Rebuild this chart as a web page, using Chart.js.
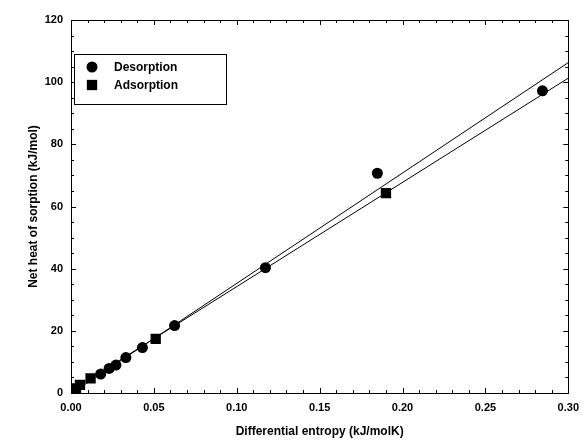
<!DOCTYPE html>
<html>
<head>
<meta charset="utf-8">
<script src="https://cdn.jsdelivr.net/npm/chart.js@4/dist/chart.umd.min.js"></script>
<style>
  html, body { margin: 0; padding: 0; background: #fff; }
  #wrap { width: 587px; height: 443px; }
</style>
</head>
<body>
<div id="wrap"><canvas id="sorptionChart"></canvas></div>
<script>
// values
const desorptionX = [0.0179, 0.0230, 0.0271, 0.0331, 0.0431, 0.0625, 0.1173, 0.1848, 0.2844];
const desorptionY = [6.1, 7.9, 9.0, 11.4, 14.6, 21.7, 40.3, 70.7, 97.2];
const adsorptionX = [0.0030, 0.0054, 0.0118, 0.0511, 0.1900];
const adsorptionY = [1.5, 2.6, 4.7, 17.4, 64.3];
// fitted straight lines (end points)
const fitUpperX = [0.0007, 0.30];
const fitUpperY = [0, 106.3];
const fitLowerX = [0, 0.30];
const fitLowerY = [0.7, 101.3];

const xTicks = [0, 0.05, 0.10, 0.15, 0.20, 0.25, 0.30];
const yTicks = [0, 20, 40, 60, 80, 100, 120];
const xMinorStep = 0.01;
const yMinorStep = 5;

function pts(xs, ys) {
  return xs.map((x, i) => ({ x: x, y: ys[i] }));
}

const FONT = 'Arial, "Liberation Sans", sans-serif';

// frame with inward ticks on all four sides
const framePlugin = {
  id: 'frame',
  afterDatasetsDraw(chart) {
    const { ctx, chartArea: a, scales } = chart;
    const xs = scales.x, ys = scales.y;
    ctx.save();
    ctx.strokeStyle = '#000';
    ctx.lineWidth = 1;
    ctx.strokeRect(Math.round(a.left) + 0.5, Math.round(a.top) + 0.5,
      Math.round(a.right - a.left), Math.round(a.bottom - a.top));
    ctx.beginPath();
    const nx = Math.round((xs.max - xs.min) / xMinorStep);
    for (let i = 0; i <= nx; i++) {
      const v = xs.min + i * xMinorStep;
      const px = Math.round(xs.getPixelForValue(v)) + 0.5;
      const len = (i % 5 === 0) ? 5 : 3;
      ctx.moveTo(px, a.bottom); ctx.lineTo(px, a.bottom - len);
      ctx.moveTo(px, a.top); ctx.lineTo(px, a.top + len);
    }
    const ny = Math.round((ys.max - ys.min) / yMinorStep);
    for (let i = 0; i <= ny; i++) {
      const v = ys.min + i * yMinorStep;
      const py = Math.round(ys.getPixelForValue(v)) + 0.5;
      const len = (i % 4 === 0) ? 5 : 3;
      ctx.moveTo(a.left, py); ctx.lineTo(a.left + len, py);
      ctx.moveTo(a.right, py); ctx.lineTo(a.right - len, py);
    }
    ctx.stroke();
    ctx.restore();
  }
};

// legend box inside the plot
const legendBoxPlugin = {
  id: 'legendBox',
  afterDraw(chart) {
    const { ctx } = chart;
    const boxL = 74, boxT = 54, boxW = 152, boxH = 50;
    ctx.save();
    ctx.fillStyle = '#fff';
    ctx.fillRect(boxL, boxT, boxW, boxH);
    ctx.strokeStyle = '#000';
    ctx.lineWidth = 1;
    ctx.strokeRect(boxL + 0.5, boxT + 0.5, boxW, boxH);
    const items = [chart.data.datasets[0], chart.data.datasets[1]];
    items.forEach((ds, i) => {
      const cy = boxT + 13 + i * 18;
      ctx.fillStyle = '#000';
      Chart.helpers.drawPoint(ctx, {
        pointStyle: ds.pointStyle, radius: ds.pointRadius, rotation: 0, borderWidth: 0
      }, 92, cy);
      ctx.font = 'bold 12px ' + FONT;
      ctx.textBaseline = 'middle';
      ctx.textAlign = 'left';
      ctx.fillText(ds.label, 114, cy + 0.5);
    });
    ctx.restore();
  }
};

new Chart(document.getElementById('sorptionChart'), {
  type: 'scatter',
  data: {
    datasets: [
      {
        label: 'Desorption',
        data: pts(desorptionX, desorptionY),
        pointStyle: 'circle',
        pointRadius: 5.5,
        backgroundColor: '#000',
        borderColor: '#000',
        borderWidth: 0
      },
      {
        label: 'Adsorption',
        data: pts(adsorptionX, adsorptionY),
        pointStyle: 'rect',
        pointRadius: 7.3,
        backgroundColor: '#000',
        borderColor: '#000',
        borderWidth: 0
      },
      {
        label: 'fit1',
        type: 'line',
        data: pts(fitUpperX, fitUpperY),
        borderColor: '#000',
        borderWidth: 1,
        pointRadius: 0,
        fill: false
      },
      {
        label: 'fit2',
        type: 'line',
        data: pts(fitLowerX, fitLowerY),
        borderColor: '#000',
        borderWidth: 1,
        pointRadius: 0,
        fill: false
      }
    ]
  },
  options: {
    responsive: true,
    maintainAspectRatio: false,
    animation: false,
    layout: { padding: { top: 20, right: 17, left: 0, bottom: 0 } },
    plugins: {
      legend: { display: false },
      tooltip: { enabled: false }
    },
    scales: {
      x: {
        type: 'linear',
        min: 0,
        max: 0.30,
        afterBuildTicks: (s) => { s.ticks = xTicks.map(v => ({ value: v })); },
        afterFit: (s) => { s.height = 50; },
        grid: { display: false, drawTicks: false },
        border: { display: false },
        ticks: {
          color: '#000',
          padding: 8,
          maxRotation: 0,
          font: { family: FONT, size: 11, weight: 'bold' },
          callback: (v) => v.toFixed(2)
        },
        title: {
          display: true,
          text: 'Differential entropy (kJ/molK)',
          color: '#000',
          font: { family: FONT, size: 12, weight: 'bold' },
          padding: { top: 0, bottom: 4 }
        }
      },
      y: {
        type: 'linear',
        min: 0,
        max: 120,
        afterBuildTicks: (s) => { s.ticks = yTicks.map(v => ({ value: v })); },
        afterFit: (s) => { s.width = 71; },
        grid: { display: false, drawTicks: false },
        border: { display: false },
        ticks: {
          color: '#000',
          padding: 8,
          font: { family: FONT, size: 11, weight: 'bold' }
        },
        title: {
          display: true,
          text: 'Net heat of sorption (kJ/mol)',
          color: '#000',
          font: { family: FONT, size: 12, weight: 'bold' },
          padding: { top: 26, bottom: 0 }
        }
      }
    }
  },
  plugins: [framePlugin, legendBoxPlugin]
});
</script>
</body>
</html>
